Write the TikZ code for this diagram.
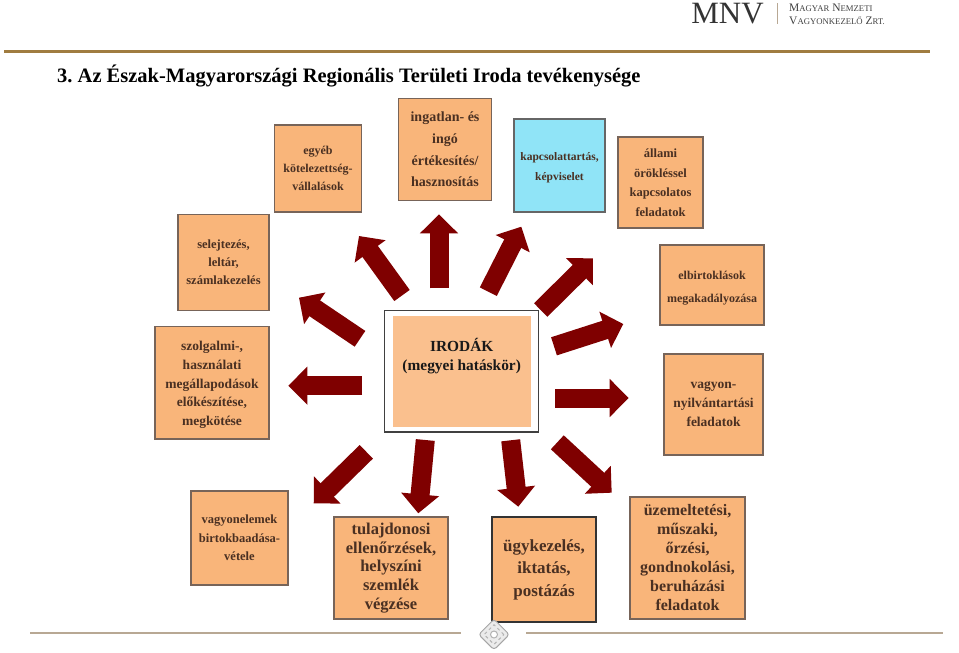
\documentclass[tikz,border=0pt]{standalone}
\usepackage{fontspec}
\usepackage{tikz}
\usetikzlibrary{arrows.meta, shapes.geometric}
\setmainfont{Liberation Serif}
\definecolor{boxfill}{HTML}{F9B57A}
\definecolor{boxtext}{HTML}{4A3022}
\definecolor{skybox}{HTML}{90E4F7}
\definecolor{arrowred}{HTML}{7F0000}
\definecolor{goldline}{HTML}{A07C40}
\definecolor{footline}{HTML}{B8A894}
\newcommand{\fs}[2]{\fontsize{#1}{#2}\selectfont}
\newcommand{\smallcap}[1]{{\fs{8.7}{11}#1}}
\tikzstyle{box} = [rectangle, draw = boxtext!75, fill = boxfill, line width = 1.2, inner sep = 0pt, align = center, text = boxtext]
\tikzstyle{block} = [line width = 19, draw = arrowred, -{Triangle[length = 19, width = 37]}]

\begin{document}
\begin{tikzpicture}[x = 1pt, y = -1pt]
    \useasboundingbox (0, 0) rectangle (959, 653);

    \node (T) at (57, 76) [anchor = west, inner sep = 0pt, font = \fs{20.5}{22}\bfseries] {3.\ Az Észak-Magyarországi Regionális Területi Iroda tevékenysége};
    \node (R) at (4, 51) [coordinate] {};
    \node (S) at (930, 51) [coordinate] {};
    \draw [goldline, line width = 3] (R) -- (S);

    % logo
    \node (M) at (727.5, 14) [text = black!80, font = \fs{31}{32}] {MNV};
    \node (L1) at (777, 3) [coordinate] {};
    \node (L2) at (777, 24) [coordinate] {};
    \draw [footline, line width = 1] (L1) -- (L2);
    \node (N1) at (789, 7.5) [anchor = west, inner sep = 0pt, text = black!75, font = \fs{11.5}{12}] {M\smallcap{AGYAR} N\smallcap{EMZETI}};
    \node (N2) at (789, 20.5) [anchor = west, inner sep = 0pt, text = black!75, font = \fs{11.5}{12}] {V\smallcap{AGYONKEZELŐ} Z\smallcap{RT.}};

    % center
    \node (C) at (461.7, 371.3) [rectangle, draw = black!75, fill = white, line width = 1.3, minimum width = 154, minimum height = 121.5] {};
    \node (D) at (461.8, 371.3) [rectangle, fill = boxfill!85!white, minimum width = 137.7, minimum height = 110.7] {};
    \node (E) at (461.7, 356.3) [align = center, inner sep = 0pt, text = black!90, font = \fs{15.4}{18.7}\bfseries] {IRODÁK\\(megyei hatáskör)};

    % boxes
    \node (A1) at (445, 149.5) [box, minimum width = 92.5, minimum height = 102.5, font = \fs{14}{21.7}\bfseries] {ingatlan- és\\ingó\\értékesítés/\\hasznosítás};
    \node (A2) at (318, 168.5) [box, minimum width = 87.5, minimum height = 87, font = \fs{12}{18}\bfseries] {egyéb\\kötelezettség-\\vállalások};
    \node (A3) at (223.5, 262.3) [box, minimum width = 91, minimum height = 96, font = \fs{12.5}{18}\bfseries] {selejtezés,\\leltár,\\számlakezelés};
    \node (A4) at (212, 382.7) [box, minimum width = 114, minimum height = 112.7, font = \fs{13.5}{18.7}\bfseries] {\rule{0pt}{14pt}szolgalmi-,\\használati\\megállapodások\\előkészítése,\\megkötése};
    \node (A5) at (559.5, 165.5) [box, draw = black!60, fill = skybox, minimum width = 91, minimum height = 93, font = \fs{11.5}{20}\bfseries] {\rule{0pt}{13pt}kapcsolattartás,\\képviselet};
    \node (A6) at (660.5, 182.5) [box, minimum width = 85, minimum height = 91, font = \fs{12.5}{19.5}\bfseries] {állami\\örökléssel\\kapcsolatos\\feladatok};
    \node (A7) at (712, 285) [box, minimum width = 104, minimum height = 80, font = \fs{12}{23}\bfseries] {\rule{0pt}{14pt}elbirtoklások\\megakadályozása};
    \node (A8) at (713.5, 404.5) [box, minimum width = 99, minimum height = 101, font = \fs{13.5}{19}\bfseries] {vagyon-\\nyilvántartási\\feladatok};
    \node (A9) at (239.5, 538) [box, minimum width = 97, minimum height = 94, font = \fs{12.5}{18.5}\bfseries] {vagyonelemek\\birtokbaadása-\\vétele};
    \node (A10) at (391, 568) [box, minimum width = 114, minimum height = 102, font = \fs{16.5}{18.7}\bfseries] {tulajdonosi\\ellenőrzések,\\helyszíni\\szemlék\\végzése};
    \node (A11) at (544, 569.5) [box, draw = black!80, minimum width = 104, minimum height = 105, font = \fs{17}{22.5}\bfseries] {ügykezelés,\\iktatás,\\postázás};
    \node (A12) at (687.5, 558) [box, minimum width = 115, minimum height = 122, font = \fs{16}{19}\bfseries] {üzemeltetési,\\műszaki,\\őrzési,\\gondnokolási,\\beruházási\\feladatok};

    % arrows
    \node (a1) at (439, 288.3) [coordinate] {};
    \node (b1) at (439, 214.3) [coordinate] {};
    \node (a2) at (402, 295.5) [coordinate] {};
    \node (b2) at (359, 236) [coordinate] {};
    \node (a3) at (360, 338.8) [coordinate] {};
    \node (b3) at (299, 297.7) [coordinate] {};
    \node (a4) at (362, 385.7) [coordinate] {};
    \node (b4) at (288.3, 385.7) [coordinate] {};
    \node (a5) at (366.3, 451.8) [coordinate] {};
    \node (b5) at (313.7, 503.3) [coordinate] {};
    \node (a6) at (425.3, 440) [coordinate] {};
    \node (b6) at (418.3, 513.3) [coordinate] {};
    \node (a7) at (510.7, 440.3) [coordinate] {};
    \node (b7) at (518.3, 506.7) [coordinate] {};
    \node (a8) at (557.3, 442.3) [coordinate] {};
    \node (b8) at (611.7, 492.7) [coordinate] {};
    \node (a9) at (555.3, 398) [coordinate] {};
    \node (b9) at (628.7, 398) [coordinate] {};
    \node (a10) at (554, 346.3) [coordinate] {};
    \node (b10) at (623.3, 324) [coordinate] {};
    \node (a11) at (540.7, 310) [coordinate] {};
    \node (b11) at (593, 258.3) [coordinate] {};
    \node (a12) at (488.3, 291.7) [coordinate] {};
    \node (b12) at (521.3, 226.7) [coordinate] {};
    \foreach \i in {1, ..., 12}
        \draw [block] (a\i) -- (b\i);

    % footer
    \node (F1) at (30, 633) [coordinate] {};
    \node (F2) at (461, 633) [coordinate] {};
    \node (F3) at (526, 633) [coordinate] {};
    \node (F4) at (943, 633) [coordinate] {};
    \draw [footline, line width = 1.5] (F1) -- (F2);
    \draw [footline, line width = 1.5] (F3) -- (F4);
    \node (O) at (494, 634.5) [diamond, rounded corners = 3, draw = black!35, fill = black!8, line width = 1, inner sep = 0pt, minimum size = 31] {};
    \node (P) at (494, 634.5) [diamond, draw = black!30, dashed, line width = 1, inner sep = 0pt, minimum size = 20] {};
    \node (Q) at (494, 634.5) [circle, draw = black!30, fill = white, line width = 1, inner sep = 0pt, minimum size = 7] {};
\end{tikzpicture}
\end{document}
